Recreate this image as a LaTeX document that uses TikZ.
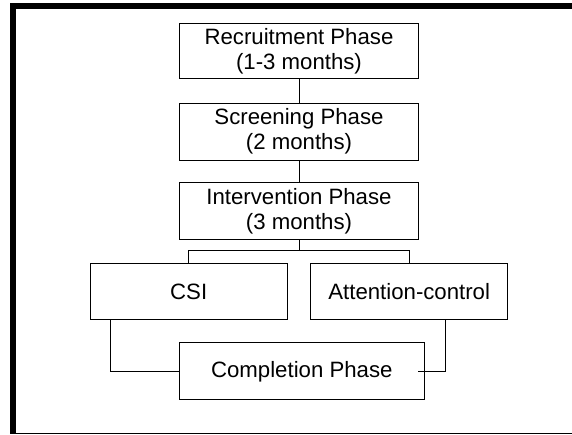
\documentclass[tikz,border=0pt]{standalone}
\usepackage{fontspec}
\setmainfont{Liberation Sans}
\begin{document}
\begin{tikzpicture}[x=1pt,y=-1pt,
  phasebox/.style={draw=black,line width=1pt,inner sep=0pt,align=center,
    font=\fontsize{22.2}{25}\selectfont},
  conn/.style={draw=black,line width=1pt}]
\useasboundingbox (0,0) rectangle (572,434);
% frame
\fill[black] (10,3) rectangle (16,434);
\fill[black] (10,3) rectangle (572,9);
\fill[black] (10,432.6) rectangle (572,434);
% boxes
\node[phasebox,minimum width=239.4pt,minimum height=55pt] (rec) at (299,50.8) {Recruitment Phase\\(1-3 months)};
\node[phasebox,minimum width=239.4pt,minimum height=56.7pt] (scr) at (299,131.7) {Screening Phase\\(2 months)};
\node[phasebox,minimum width=239.4pt,minimum height=56.6pt] (int) at (299,211) {Intervention Phase\\(3 months)};
\node[phasebox,minimum width=197.3pt,minimum height=55.6pt] (csi) at (188.7,291.5) {CSI};
\node[phasebox,minimum width=197pt,minimum height=55.6pt] (att) at (409.2,291.5) {Attention-control};
\node[phasebox,minimum width=245pt,minimum height=56.7pt] (comp) at (301.8,371.3) {Completion Phase};
% connectors
\coordinate (br) at (299,250.3);
\draw[conn] (rec.south) -- (scr.north);
\draw[conn] (scr.south) -- (int.north);
\draw[conn] (int.south) -- (br);
\draw[conn] (br) -| (csi.north);
\draw[conn] (br) -| (att.north);
\draw[conn] ([xshift=-78.7pt]csi.south) |- (comp.west);
\draw[conn] ([xshift=36.1pt]att.south) |- ([xshift=-6.6pt]comp.east);
\end{tikzpicture}
\end{document}
